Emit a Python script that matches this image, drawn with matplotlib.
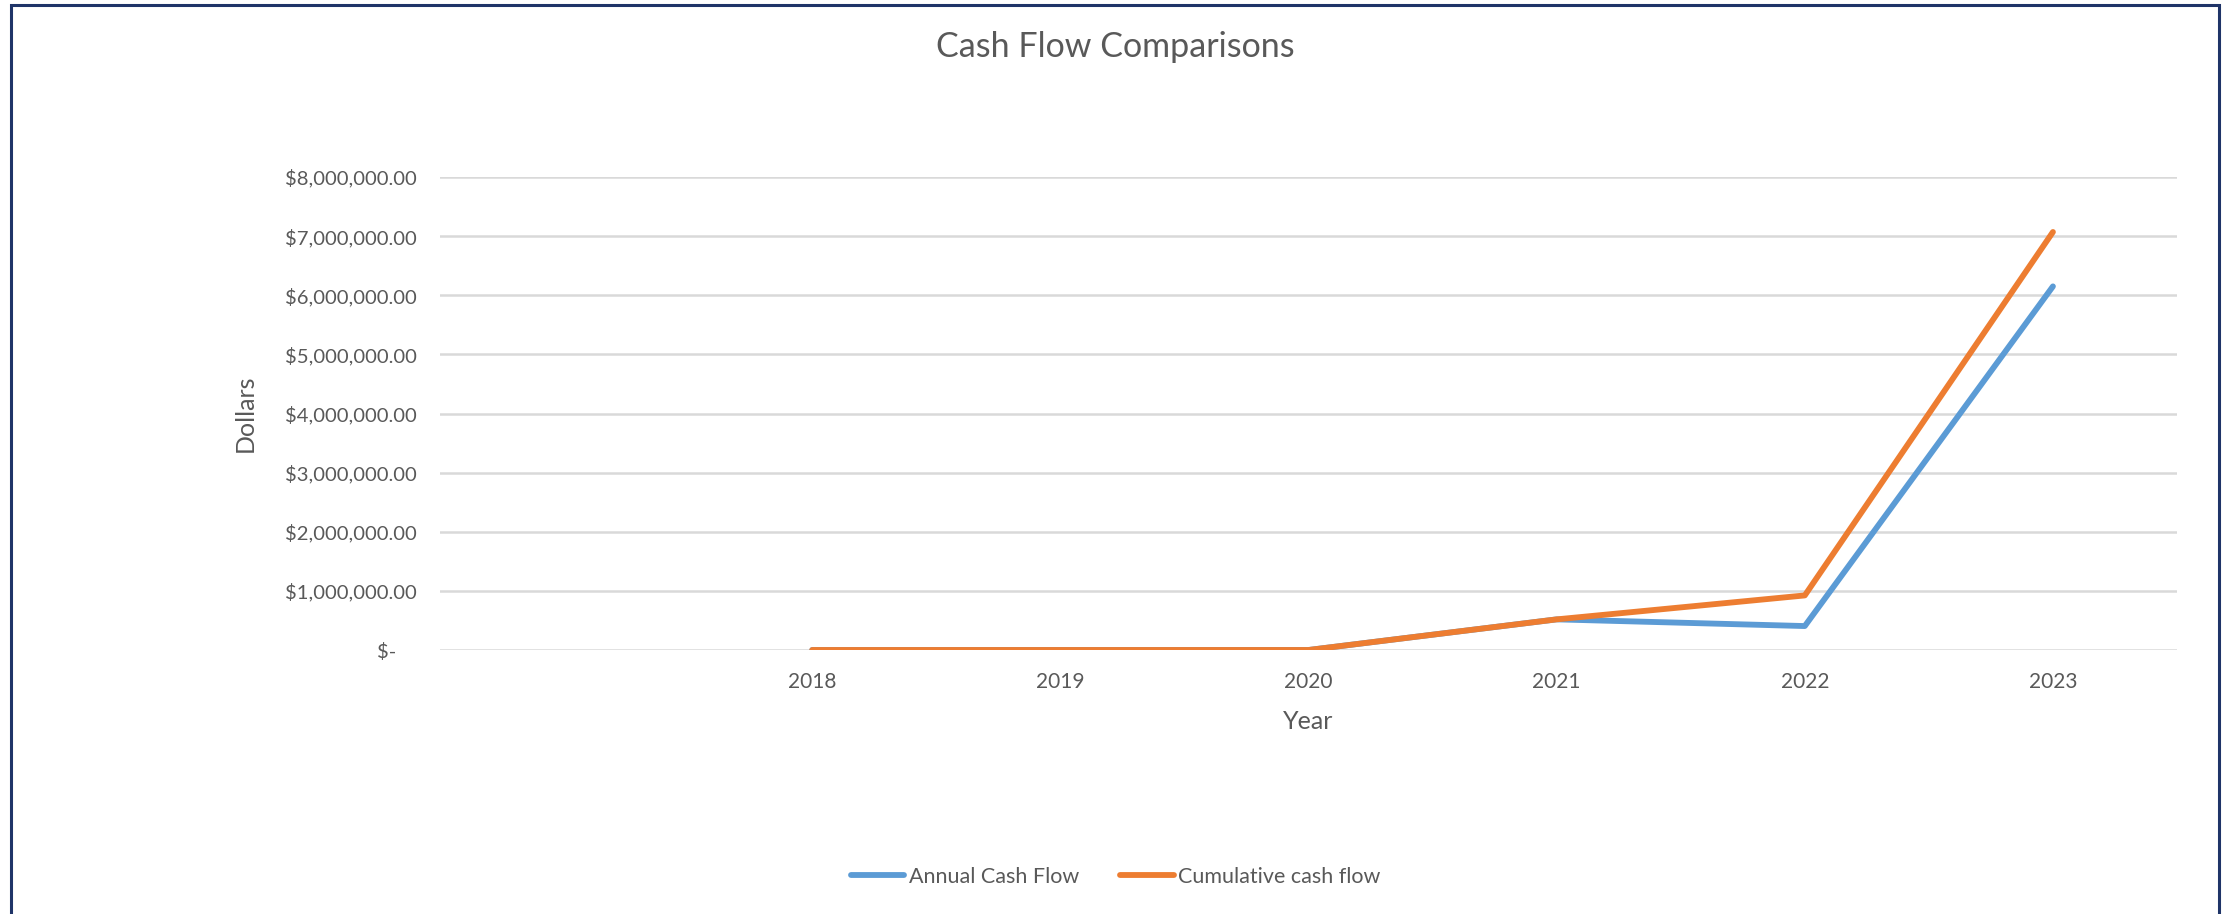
import matplotlib.pyplot as plt
from matplotlib.patches import Rectangle
from matplotlib.ticker import FuncFormatter

# data
years = ['', '2018', '2019', '2020', '2021', '2022', '2023']
annual = [None, 0, 0, 0, 518000, 405000, 6150000]
cumulative = [None, 0, 0, 0, 518000, 923000, 7070000]

text_col = '#595959'
plt.rcParams['font.family'] = ['Lato', 'DejaVu Sans']

W, H = 2231, 914
fig = plt.figure(figsize=(W / 100, H / 100), dpi=100)
ax = fig.add_axes([440 / W, 1 - 650 / H, (2177 - 440) / W, (650 - 177) / H])

x = list(range(len(years)))
xa = [i for i, v in zip(x, annual) if v is not None]
ya = [v for v in annual if v is not None]
xc = [i for i, v in zip(x, cumulative) if v is not None]
yc = [v for v in cumulative if v is not None]

ax.plot(xa, ya, color='#5B9BD5', lw=4.2, solid_capstyle='round', solid_joinstyle='round',
        label='Annual Cash Flow', zorder=3)
ax.plot(xc, yc, color='#ED7D31', lw=4.2, solid_capstyle='round', solid_joinstyle='round',
        label='Cumulative cash flow', zorder=4)

ax.set_xlim(-0.5, len(years) - 0.5)
ax.set_ylim(0, 8000000)
ax.set_xticks(x)
ax.set_xticklabels(years)
ax.set_yticks(range(0, 8000001, 1000000))


def money(v, pos):
    if v == 0:
        return '$-    '
    return '${:,.2f}'.format(v)


ax.yaxis.set_major_formatter(FuncFormatter(money))
ax.grid(axis='y', color='#D9D9D9', lw=1.8)
ax.set_axisbelow(True)
for s in ax.spines.values():
    s.set_visible(False)
ax.tick_params(axis='both', length=0, labelsize=15, labelcolor=text_col)
ax.tick_params(axis='y', labelsize=14.6, pad=17)
ax.tick_params(axis='x', pad=16)

ax.set_xlabel('Year', fontsize=18, color=text_col, labelpad=13)
ax.set_ylabel('Dollars', fontsize=18, color=text_col)
ax.yaxis.set_label_coords((257 - 440) / (2177 - 440), 0.5)

fig.text(0.5, 1 - 47 / H, 'Cash Flow Comparisons', ha='center', va='center',
         fontsize=24.5, color=text_col)

fig.legend(loc='center', bbox_to_anchor=(0.5, 1 - 877 / H), ncol=2, frameon=False,
           fontsize=15.5, labelcolor=text_col, handlelength=2.5, handletextpad=0.2,
           columnspacing=1.9)

# chart border
fig.patches.append(Rectangle((11 / W, -0.05), (2219 - 11) / W, 1.05 - 5 / H,
                             transform=fig.transFigure, fill=False,
                             edgecolor='#1F3468', lw=2.2, figure=fig))

fig.savefig('out.png', dpi=100)
